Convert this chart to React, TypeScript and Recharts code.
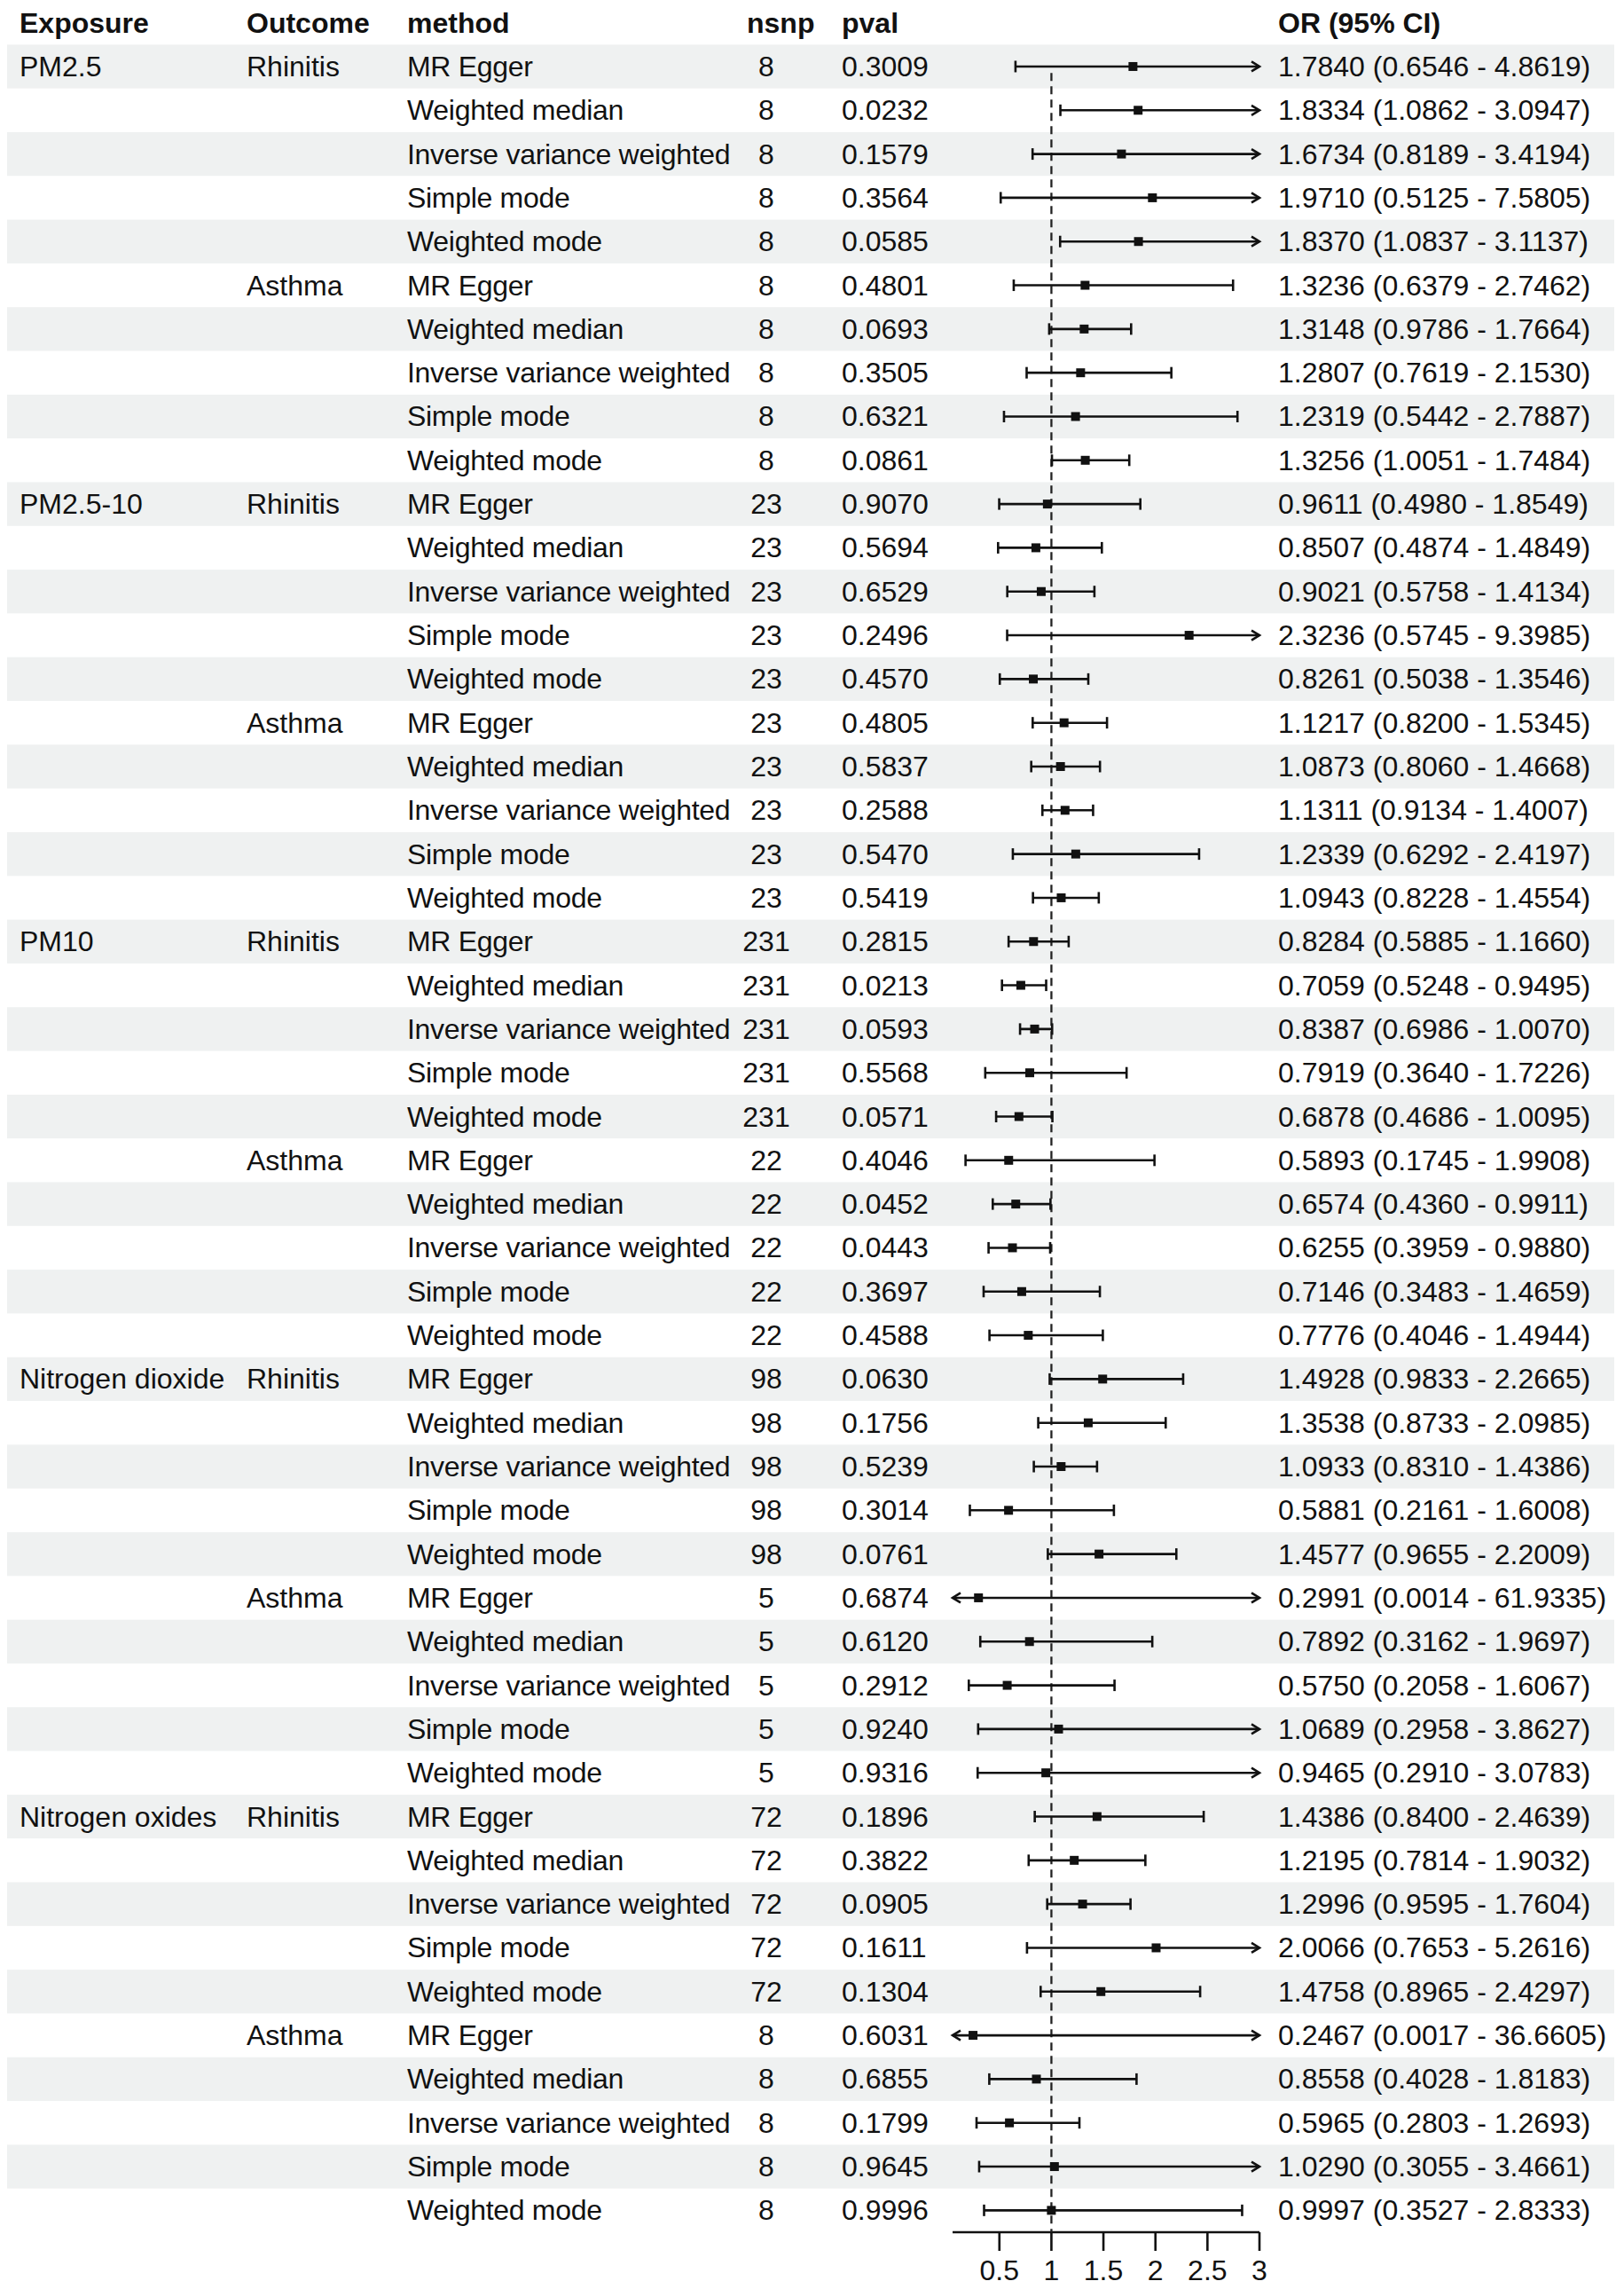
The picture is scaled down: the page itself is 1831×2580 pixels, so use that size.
import React from 'react';
import { ScatterChart, Scatter, XAxis, YAxis } from 'recharts';

const EXPOSURES = ['PM2.5', 'PM2.5-10', 'PM10', 'Nitrogen dioxide', 'Nitrogen oxides'];
const OUTCOMES = ['Rhinitis', 'Asthma'];
const METHODS = ['MR Egger', 'Weighted median', 'Inverse variance weighted', 'Simple mode', 'Weighted mode'];
const HEADERS = ['Exposure', 'Outcome', 'method', 'nsnp', 'pval', 'OR (95% CI)'];

// one nsnp per exposure/outcome block of 5 methods
const NSNP = [8, 8, 23, 23, 231, 22, 98, 5, 72, 8];

const PVAL = [
  0.3009, 0.0232, 0.1579, 0.3564, 0.0585, 0.4801, 0.0693, 0.3505, 0.6321, 0.0861,
  0.907, 0.5694, 0.6529, 0.2496, 0.457, 0.4805, 0.5837, 0.2588, 0.547, 0.5419,
  0.2815, 0.0213, 0.0593, 0.5568, 0.0571, 0.4046, 0.0452, 0.0443, 0.3697, 0.4588,
  0.063, 0.1756, 0.5239, 0.3014, 0.0761, 0.6874, 0.612, 0.2912, 0.924, 0.9316,
  0.1896, 0.3822, 0.0905, 0.1611, 0.1304, 0.6031, 0.6855, 0.1799, 0.9645, 0.9996,
];
const OR = [
  1.784, 1.8334, 1.6734, 1.971, 1.837, 1.3236, 1.3148, 1.2807, 1.2319, 1.3256,
  0.9611, 0.8507, 0.9021, 2.3236, 0.8261, 1.1217, 1.0873, 1.1311, 1.2339, 1.0943,
  0.8284, 0.7059, 0.8387, 0.7919, 0.6878, 0.5893, 0.6574, 0.6255, 0.7146, 0.7776,
  1.4928, 1.3538, 1.0933, 0.5881, 1.4577, 0.2991, 0.7892, 0.575, 1.0689, 0.9465,
  1.4386, 1.2195, 1.2996, 2.0066, 1.4758, 0.2467, 0.8558, 0.5965, 1.029, 0.9997,
];
const LOWER = [
  0.6546, 1.0862, 0.8189, 0.5125, 1.0837, 0.6379, 0.9786, 0.7619, 0.5442, 1.0051,
  0.498, 0.4874, 0.5758, 0.5745, 0.5038, 0.82, 0.806, 0.9134, 0.6292, 0.8228,
  0.5885, 0.5248, 0.6986, 0.364, 0.4686, 0.1745, 0.436, 0.3959, 0.3483, 0.4046,
  0.9833, 0.8733, 0.831, 0.2161, 0.9655, 0.0014, 0.3162, 0.2058, 0.2958, 0.291,
  0.84, 0.7814, 0.9595, 0.7653, 0.8965, 0.0017, 0.4028, 0.2803, 0.3055, 0.3527,
];
const UPPER = [
  4.8619, 3.0947, 3.4194, 7.5805, 3.1137, 2.7462, 1.7664, 2.153, 2.7887, 1.7484,
  1.8549, 1.4849, 1.4134, 9.3985, 1.3546, 1.5345, 1.4668, 1.4007, 2.4197, 1.4554,
  1.166, 0.9495, 1.007, 1.7226, 1.0095, 1.9908, 0.9911, 0.988, 1.4659, 1.4944,
  2.2665, 2.0985, 1.4386, 1.6008, 2.2009, 61.9335, 1.9697, 1.6067, 3.8627, 3.0783,
  2.4639, 1.9032, 1.7604, 5.2616, 2.4297, 36.6605, 1.8183, 1.2693, 3.4661, 2.8333,
];

const REF_X = 1; // null-effect line
const X_MIN = 0.05;
const X_MAX = 3;
const X_TICKS = [0.5, 1, 1.5, 2, 2.5, 3];

// layout
const W = 1831;
const H = 2580;
const ROW_H = 49.31;
const FONT = '"Liberation Sans", Arial, sans-serif';
const INK = '#111';
const BAND = '#eff1f1';
const COL_X = [22, 278, 459, 842, 949, 1441];
const NSNP_CENTER = 864;
const LW = 2.6;

const rows = OR.map((or, i) => ({
  row: i,
  or,
  loC: Math.max(LOWER[i], X_MIN),
  hiC: Math.min(UPPER[i], X_MAX),
  loCut: LOWER[i] < X_MIN,
  hiCut: UPPER[i] > X_MAX,
}));

// each scatter series reads its x from the shared "x" key
const bandData = rows.filter((r) => r.row % 2 === 0).map((r) => ({ row: r.row, x: REF_X }));
const refData = [
  { x: REF_X, row: 0.15 },
  { x: REF_X, row: rows.length - 0.5 },
];
const ciData = rows.map((r) => [
  { row: r.row, x: r.loC, dir: -1, cut: r.loCut },
  { row: r.row, x: r.hiC, dir: 1, cut: r.hiCut },
]);
const ptData = rows.map((r) => ({ row: r.row, x: r.or }));
const ROW_TICKS = [-1, ...rows.map((r) => r.row)];

const txt = { fontFamily: FONT, fontSize: 32, fill: INK };

function RowTick(props: any) {
  const { y, payload } = props;
  const r = Number(payload.value);
  const base = y + 11;
  if (r < 0) {
    return (
      <g>
        {HEADERS.map((h, k) => (
          <text key={h} x={COL_X[k]} y={base} {...txt} fontWeight="bold">
            {h}
          </text>
        ))}
      </g>
    );
  }
  const block = Math.floor(r / 5);
  return (
    <g>
      {r % 10 === 0 && (
        <text x={COL_X[0]} y={base} {...txt}>
          {EXPOSURES[Math.floor(r / 10)]}
        </text>
      )}
      {r % 5 === 0 && (
        <text x={COL_X[1]} y={base} {...txt}>
          {OUTCOMES[block % 2]}
        </text>
      )}
      <text x={COL_X[2]} y={base} {...txt} letterSpacing={-0.3}>
        {METHODS[r % 5]}
      </text>
      <text x={NSNP_CENTER} y={base} textAnchor="middle" {...txt}>
        {NSNP[block]}
      </text>
      <text x={COL_X[4]} y={base} {...txt}>
        {PVAL[r].toFixed(4)}
      </text>
      <text x={COL_X[5]} y={base} {...txt}>
        {`${OR[r].toFixed(4)} (${LOWER[r].toFixed(4)} - ${UPPER[r].toFixed(4)})`}
      </text>
    </g>
  );
}

// full-width row shading, anchored on the row's y position
function Band(props: any) {
  const { cy } = props;
  return <rect x={8} y={cy - ROW_H / 2} width={1812} height={ROW_H} fill={BAND} />;
}

function Nothing() {
  return <g />;
}

// CI end: vertical cap, or an open arrow when the interval runs past the axis
function CiEnd(props: any) {
  const { cx, cy, payload } = props;
  const d = payload.dir;
  if (payload.cut) {
    return (
      <polyline
        points={`${cx - d * 9},${cy - 5.5} ${cx},${cy} ${cx - d * 9},${cy + 5.5}`}
        fill="none"
        stroke={INK}
        strokeWidth={LW}
      />
    );
  }
  return <line x1={cx} x2={cx} y1={cy - 6.5} y2={cy + 6.5} stroke={INK} strokeWidth={LW} />;
}

function Box(props: any) {
  const { cx, cy } = props;
  return <rect x={cx - 5} y={cy - 5} width={10} height={10} fill={INK} />;
}

export default function App() {
  return (
    <div style={{ width: W, height: H, background: '#fff' }}>
      <style>{'body{margin:0}'}</style>
      <ScatterChart width={W} height={H} margin={{ top: 1, right: 411, bottom: 4, left: 1064 }}>
        <YAxis
          type="number"
          dataKey="row"
          domain={[-1.5, rows.length - 0.5]}
          reversed
          ticks={ROW_TICKS}
          interval={0}
          width={10}
          axisLine={false}
          tickLine={false}
          tick={RowTick}
        />
        <XAxis
          type="number"
          dataKey="x"
          domain={[X_MIN, X_MAX]}
          ticks={X_TICKS}
          interval={0}
          height={60}
          tickSize={21}
          tickMargin={10}
          axisLine={{ stroke: INK, strokeWidth: LW }}
          tickLine={{ stroke: INK, strokeWidth: LW }}
          tick={{ fontFamily: FONT, fontSize: 32, fill: INK }}
        />
        <Scatter data={bandData} shape={Band} isAnimationActive={false} />
        <Scatter
          data={refData}
          shape={Nothing}
          line={{ stroke: '#222', strokeWidth: 2.3, strokeDasharray: '9 6' }}
          isAnimationActive={false}
        />
        {ciData.map((pair, i) => (
          <Scatter
            key={i}
            data={pair}
            shape={CiEnd}
            line={{ stroke: INK, strokeWidth: LW }}
            isAnimationActive={false}
          />
        ))}
        <Scatter data={ptData} shape={Box} isAnimationActive={false} />
      </ScatterChart>
    </div>
  );
}
